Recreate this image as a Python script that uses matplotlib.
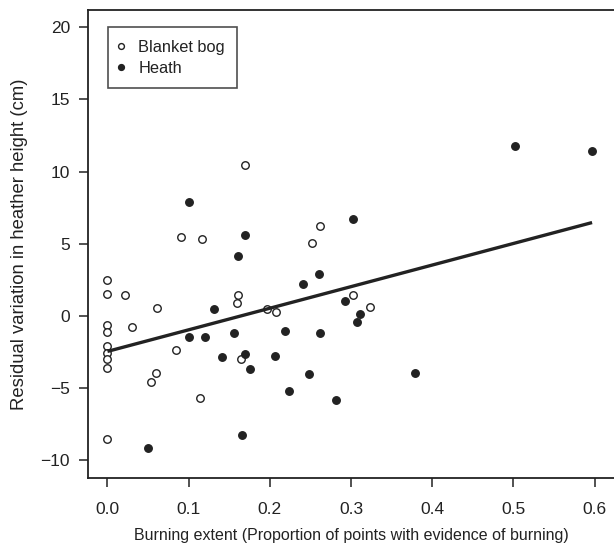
import matplotlib
matplotlib.use("Agg")
import matplotlib.pyplot as plt
from matplotlib.lines import Line2D
import numpy as np

plt.rcParams['font.family'] = ['Liberation Sans', 'DejaVu Sans']

# Blanket bog (open circles)
bog_x = [0.0, 0.0, 0.022, 0.0, 0.0, 0.030, 0.061, 0.0, 0.0, 0.0, 0.0, 0.0,
         0.085, 0.090, 0.116, 0.053, 0.060, 0.114, 0.170, 0.161, 0.159, 0.165,
         0.196, 0.207, 0.252, 0.262, 0.302, 0.323]
bog_y = [2.52, 1.50, 1.43, -0.65, -1.09, -0.75, 0.56, -2.06, -2.54, -2.95, -3.58, -8.52,
         -2.35, 5.50, 5.35, -4.60, -3.95, -5.69, 10.44, 1.43, 0.92, -3.00,
         0.46, 0.27, 5.04, 6.22, 1.43, 0.63]

# Heath (filled circles)
heath_x = [0.100, 0.170, 0.161, 0.302, 0.502, 0.597, 0.261, 0.241, 0.131, 0.292,
           0.311, 0.308, 0.100, 0.120, 0.156, 0.219, 0.262, 0.141, 0.170, 0.206,
           0.176, 0.248, 0.379, 0.224, 0.281, 0.166, 0.050]
heath_y = [7.89, 5.61, 4.19, 6.73, 11.81, 11.44, 2.88, 2.23, 0.48, 1.06,
           0.12, -0.41, -1.45, -1.48, -1.19, -1.04, -1.19, -2.86, -2.61, -2.78,
           -3.65, -4.02, -3.94, -5.18, -5.83, -8.23, -9.17]

# Fitted regression line
line_intercept = -2.45
line_slope = 14.95

x_ticks = [0.0, 0.1, 0.2, 0.3, 0.4, 0.5, 0.6]
y_ticks = [-10, -5, 0, 5, 10, 15, 20]

ink = '#222222'
W, H = 614, 545
fig = plt.figure(figsize=(W / 100, H / 100), dpi=100)
left, right, top, bottom = 88, 614, 10, 477.7
ax = fig.add_axes([left / W, 1 - bottom / H, (right - left) / W, (bottom - top) / H])

ax.plot(bog_x, bog_y, linestyle='none', marker='o', markersize=5.4,
        markerfacecolor='white', markeredgecolor=ink, markeredgewidth=1.0, zorder=3)
ax.plot(heath_x, heath_y, linestyle='none', marker='o', markersize=5.4,
        markerfacecolor=ink, markeredgecolor=ink, markeredgewidth=1.0, zorder=3)

all_x = np.array(bog_x + heath_x)
lx = np.array([all_x.min(), all_x.max()])
ax.plot(lx, line_intercept + line_slope * lx, color=ink, lw=2.4, zorder=4,
        solid_capstyle='butt')

ax.set_xlim(-0.024, 0.624)
ax.set_ylim(-11.2, 21.2)
ax.set_xticks(x_ticks)
ax.set_xticklabels([f"{v:.1f}" for v in x_ticks])
ax.set_yticks(y_ticks)
ax.set_yticklabels([f"{v}".replace('-', '\u2212') for v in y_ticks])

for s in ['left', 'top', 'bottom']:
    ax.spines[s].set_color(ink)
    ax.spines[s].set_linewidth(1.3)
ax.spines['right'].set_visible(False)

ax.tick_params(axis='both', direction='out', length=6.5, width=1.1, color=ink,
               labelsize=12.5, labelcolor=ink)
ax.tick_params(axis='y', pad=6.5)
ax.tick_params(axis='x', pad=11)

ax.set_xlabel('Burning extent (Proportion of points with evidence of burning)',
              fontsize=11.5, color=ink, labelpad=8)
ax.set_ylabel('Residual variation in heather height (cm)',
              fontsize=13.3, color=ink, labelpad=9)

handles = [
    Line2D([], [], linestyle='none', marker='o', markersize=4.2,
           markerfacecolor='white', markeredgecolor=ink, markeredgewidth=1.0),
    Line2D([], [], linestyle='none', marker='o', markersize=4.2,
           markerfacecolor=ink, markeredgecolor=ink, markeredgewidth=1.0),
]
leg = ax.legend(handles, ['Blanket bog', 'Heath'], loc='upper left',
                bbox_to_anchor=(0.038, 0.9626), fontsize=11.8, frameon=True,
                fancybox=False, edgecolor=ink, borderpad=0.75, labelspacing=0.38,
                handlelength=0.1, handletextpad=1.0, borderaxespad=0.0)
leg.get_frame().set_linewidth(1.2)
for t in leg.get_texts():
    t.set_color(ink)

fig.savefig('out.png', dpi=100)
